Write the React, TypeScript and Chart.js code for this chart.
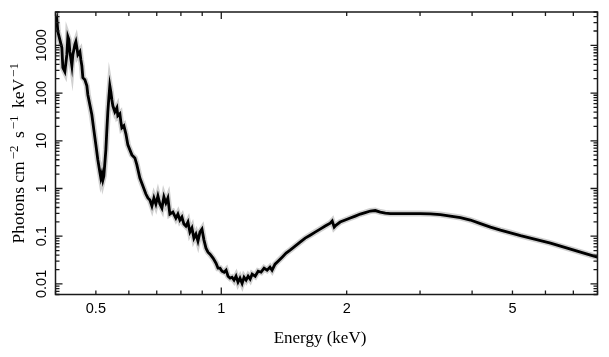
import { useEffect, useRef } from "react";
import { Chart, registerables } from "chart.js";
Chart.register(...registerables);

// Energy (keV)
const energy = [
  0.400, 0.403, 0.4052, 0.4097, 0.4143, 0.4166, 0.4212, 0.4259, 0.4283, 0.4307,
  0.4330, 0.4379, 0.4403, 0.4452, 0.4477, 0.4502, 0.4527, 0.4577, 0.4602, 0.4627,
  0.4653, 0.4705, 0.4757, 0.4783, 0.4836, 0.4890, 0.4944, 0.5000, 0.5055, 0.5111,
  0.5140, 0.5168, 0.5197, 0.5225, 0.5284, 0.5313, 0.5342, 0.5372, 0.5401, 0.5432,
  0.5462, 0.5492, 0.5553, 0.5615, 0.5646, 0.5709, 0.5741, 0.5773, 0.5837, 0.5902,
  0.5967, 0.6034, 0.6101, 0.6203, 0.6272, 0.6377, 0.6484, 0.6592, 0.6666, 0.6740,
  0.6815, 0.6891, 0.6967, 0.7045, 0.7123, 0.7202, 0.7282, 0.7363, 0.7444, 0.7527,
  0.7653, 0.7781, 0.7868, 0.7955, 0.8044, 0.8134, 0.8224, 0.8316, 0.8409, 0.8502,
  0.8597, 0.8693, 0.8790, 0.8888, 0.8987, 0.9088, 0.9189, 0.9292, 0.9397, 0.9554,
  0.9714, 0.9822, 0.9931, 1.004, 1.016, 1.027, 1.038, 1.050, 1.061, 1.073,
  1.085, 1.097, 1.109, 1.122, 1.134, 1.147, 1.160, 1.173, 1.186, 1.206,
  1.226, 1.246, 1.267, 1.288, 1.309, 1.324, 1.346, 1.369, 1.400, 1.431,
  1.463, 1.504, 1.546, 1.590, 1.634, 1.680, 1.727, 1.776, 1.826, 1.846,
  1.867, 1.887, 1.929, 1.984, 2.040, 2.097, 2.156, 2.216, 2.279, 2.342,
  2.408, 2.476, 2.545, 2.690, 2.843, 3.005, 3.176, 3.357, 3.548, 3.750,
  3.963, 4.189, 4.427, 4.679, 4.946, 5.228, 5.524, 5.839, 6.171, 6.522,
  6.893, 7.284, 7.700, 8.000,
];

// Photons cm^-2 s^-1 keV^-1
const flux = [
  2720, 3470, 1940, 1320, 895, 340, 280, 638, 1520, 1320,
  738, 375, 638, 1035, 1196, 895, 638, 738, 501, 375,
  210, 190, 142, 92.1, 56.8, 35.0, 16.9, 8.20, 3.97, 2.22,
  1.66, 2.02, 1.51, 1.83, 6.44, 16.9, 40.5, 79.7, 142, 106,
  72.3, 54.1, 40.5, 49.1, 33.3, 36.7, 24.9, 18.7, 20.6, 14.0,
  8.20, 6.44, 5.06, 4.37, 3.12, 1.66, 1.13, 0.766, 0.632, 0.573,
  0.429, 0.632, 0.472, 0.696, 0.472, 0.389, 0.663, 0.496, 0.632, 0.291,
  0.321, 0.240, 0.291, 0.218, 0.252, 0.180, 0.163, 0.198, 0.122, 0.148,
  0.0912, 0.111, 0.0789, 0.122, 0.141, 0.0828, 0.0562, 0.0463, 0.0421, 0.0347,
  0.0272, 0.0214, 0.0214, 0.0185, 0.0176, 0.0194, 0.0145, 0.0132, 0.0138, 0.0120,
  0.0145, 0.0109, 0.0132, 0.0103, 0.0138, 0.0120, 0.0145, 0.0126, 0.0160, 0.0145,
  0.0185, 0.0176, 0.0214, 0.0194, 0.0224, 0.0194, 0.0259, 0.0300, 0.0364, 0.0442,
  0.0511, 0.0619, 0.0752, 0.0912, 0.105, 0.122, 0.141, 0.163, 0.188, 0.208,
  0.155, 0.171, 0.198, 0.218, 0.240, 0.264, 0.291, 0.313, 0.337, 0.345,
  0.321, 0.306, 0.298, 0.298, 0.298, 0.298, 0.294, 0.284, 0.264, 0.246,
  0.218, 0.184, 0.155, 0.134, 0.118, 0.103, 0.0912, 0.0808, 0.0716, 0.0619,
  0.0536, 0.0463, 0.0401, 0.0364,
];

const xMin = 0.4;
const xMax = 8;
const yMin = 0.006;
const yMax = 5000;

const xTickValues = [0.4, 0.5, 0.6, 0.7, 0.8, 0.9, 1, 2, 3, 4, 5, 6, 7, 8];
const xMajorValues = [1];
const xLabelValues = [0.5, 1, 2, 5];
const xLabelTexts = ["0.5", "1", "2", "5"];

const yMajorValues = [0.01, 0.1, 1, 10, 100, 1000];
const yLabelTexts = ["0.01", "0.1", "1", "10", "100", "1000"];
const yDecades = [0.001, 0.01, 0.1, 1, 10, 100, 1000];
const yMinorMultipliers = [2, 3, 4, 5, 6, 7, 8, 9];

const xTitle = "Energy (keV)";
const yTitleParts = [
  { t: "Photons cm", sup: false },
  { t: "\u22122", sup: true },
  { t: " s", sup: false },
  { t: "\u22121", sup: true },
  { t: " keV", sup: false },
  { t: "\u22121", sup: true },
];

export default function App() {
  const ref = useRef<HTMLCanvasElement>(null);

  useEffect(() => {
    if (!ref.current) return;
    const pts = energy.map((e, i) => ({ x: e, y: flux[i] }));

    const axesPlugin = {
      id: "axesBox",
      afterDraw(chart: any) {
        const { ctx, chartArea } = chart;
        const { left, right, top, bottom } = chartArea;
        const xs = chart.scales.x;
        const ys = chart.scales.y;
        ctx.save();
        ctx.strokeStyle = "#1a1a1a";
        ctx.lineWidth = 1.5;
        ctx.strokeRect(left, top, right - left, bottom - top);

        ctx.lineWidth = 1.3;
        ctx.beginPath();
        for (const v of xTickValues) {
          const px = xs.getPixelForValue(v);
          const len = xMajorValues.includes(v) ? 7 : 4;
          ctx.moveTo(px, bottom);
          ctx.lineTo(px, bottom - len);
          ctx.moveTo(px, top);
          ctx.lineTo(px, top + len);
        }
        const yTicks: { v: number; major: boolean }[] = [];
        for (const d of yDecades) {
          if (d >= yMin && d <= yMax) yTicks.push({ v: d, major: true });
          for (const m of yMinorMultipliers) {
            const v = d * m;
            if (v >= yMin && v <= yMax) yTicks.push({ v, major: false });
          }
        }
        for (const t of yTicks) {
          const py = ys.getPixelForValue(t.v);
          const len = t.major ? 7 : 4;
          ctx.moveTo(left, py);
          ctx.lineTo(left + len, py);
          ctx.moveTo(right, py);
          ctx.lineTo(right - len, py);
        }
        ctx.stroke();

        // tick labels
        ctx.fillStyle = "#000";
        ctx.font = '14.5px "Liberation Sans", Arial, sans-serif';
        ctx.textAlign = "center";
        ctx.textBaseline = "alphabetic";
        xLabelValues.forEach((v, i) => {
          const px = xs.getPixelForValue(v);
          ctx.fillText(xLabelTexts[i], px, 312.7);
        });
        yMajorValues.forEach((v, i) => {
          const py = ys.getPixelForValue(v);
          ctx.save();
          ctx.translate(45.5, py);
          ctx.rotate(-Math.PI / 2);
          ctx.fillText(yLabelTexts[i], 0, 0);
          ctx.restore();
        });

        // x title
        ctx.font = '17px "Liberation Serif", "Times New Roman", serif';
        ctx.fillText(xTitle, 320, 343);

        // y title with superscripts
        const mainFont = '17.5px "Liberation Serif", "Times New Roman", serif';
        const supFont = '13px "Liberation Serif", "Times New Roman", serif';
        const gapBefore = 2;
        const gapAfter = 3;
        let total = 0;
        const widths = yTitleParts.map((p, i) => {
          ctx.font = p.sup ? supFont : mainFont;
          let w = ctx.measureText(p.t).width;
          if (p.sup) w += gapBefore + (i < yTitleParts.length - 1 ? gapAfter : 0);
          total += w;
          return w;
        });
        ctx.save();
        ctx.translate(23.5, (top + bottom) / 2);
        ctx.rotate(-Math.PI / 2);
        ctx.textAlign = "left";
        let cx = -total / 2;
        yTitleParts.forEach((p, i) => {
          ctx.font = p.sup ? supFont : mainFont;
          ctx.fillText(p.t, cx + (p.sup ? gapBefore : 0), p.sup ? -6 : 0);
          cx += widths[i];
        });
        ctx.restore();
        ctx.restore();
      },
    };

    const chart = new Chart(ref.current, {
      type: "line",
      data: {
        datasets: [
          {
            data: pts,
            borderColor: "#000",
            borderWidth: 2.8,
            pointRadius: 0,
            tension: 0,
          },
          {
            data: pts,
            borderColor: "rgba(150,150,150,0.45)",
            borderWidth: 6,
            pointRadius: 0,
            tension: 0,
          },
        ],
      },
      options: {
        animation: false,
        responsive: true,
        maintainAspectRatio: false,
        events: [],
        layout: { padding: { left: 55.5, right: 11.5, top: 12, bottom: 62.5 } },
        plugins: { legend: { display: false }, tooltip: { enabled: false } },
        scales: {
          x: { type: "logarithmic", min: xMin, max: xMax, display: false },
          y: { type: "logarithmic", min: yMin, max: yMax, display: false },
        },
      },
      plugins: [axesPlugin],
    } as any);
    return () => chart.destroy();
  }, []);

  return (
    <div
      style={{
        position: "fixed",
        left: 0,
        top: 0,
        width: 609,
        height: 357,
        background: "#fff",
      }}
    >
      <canvas ref={ref} />
    </div>
  );
}
